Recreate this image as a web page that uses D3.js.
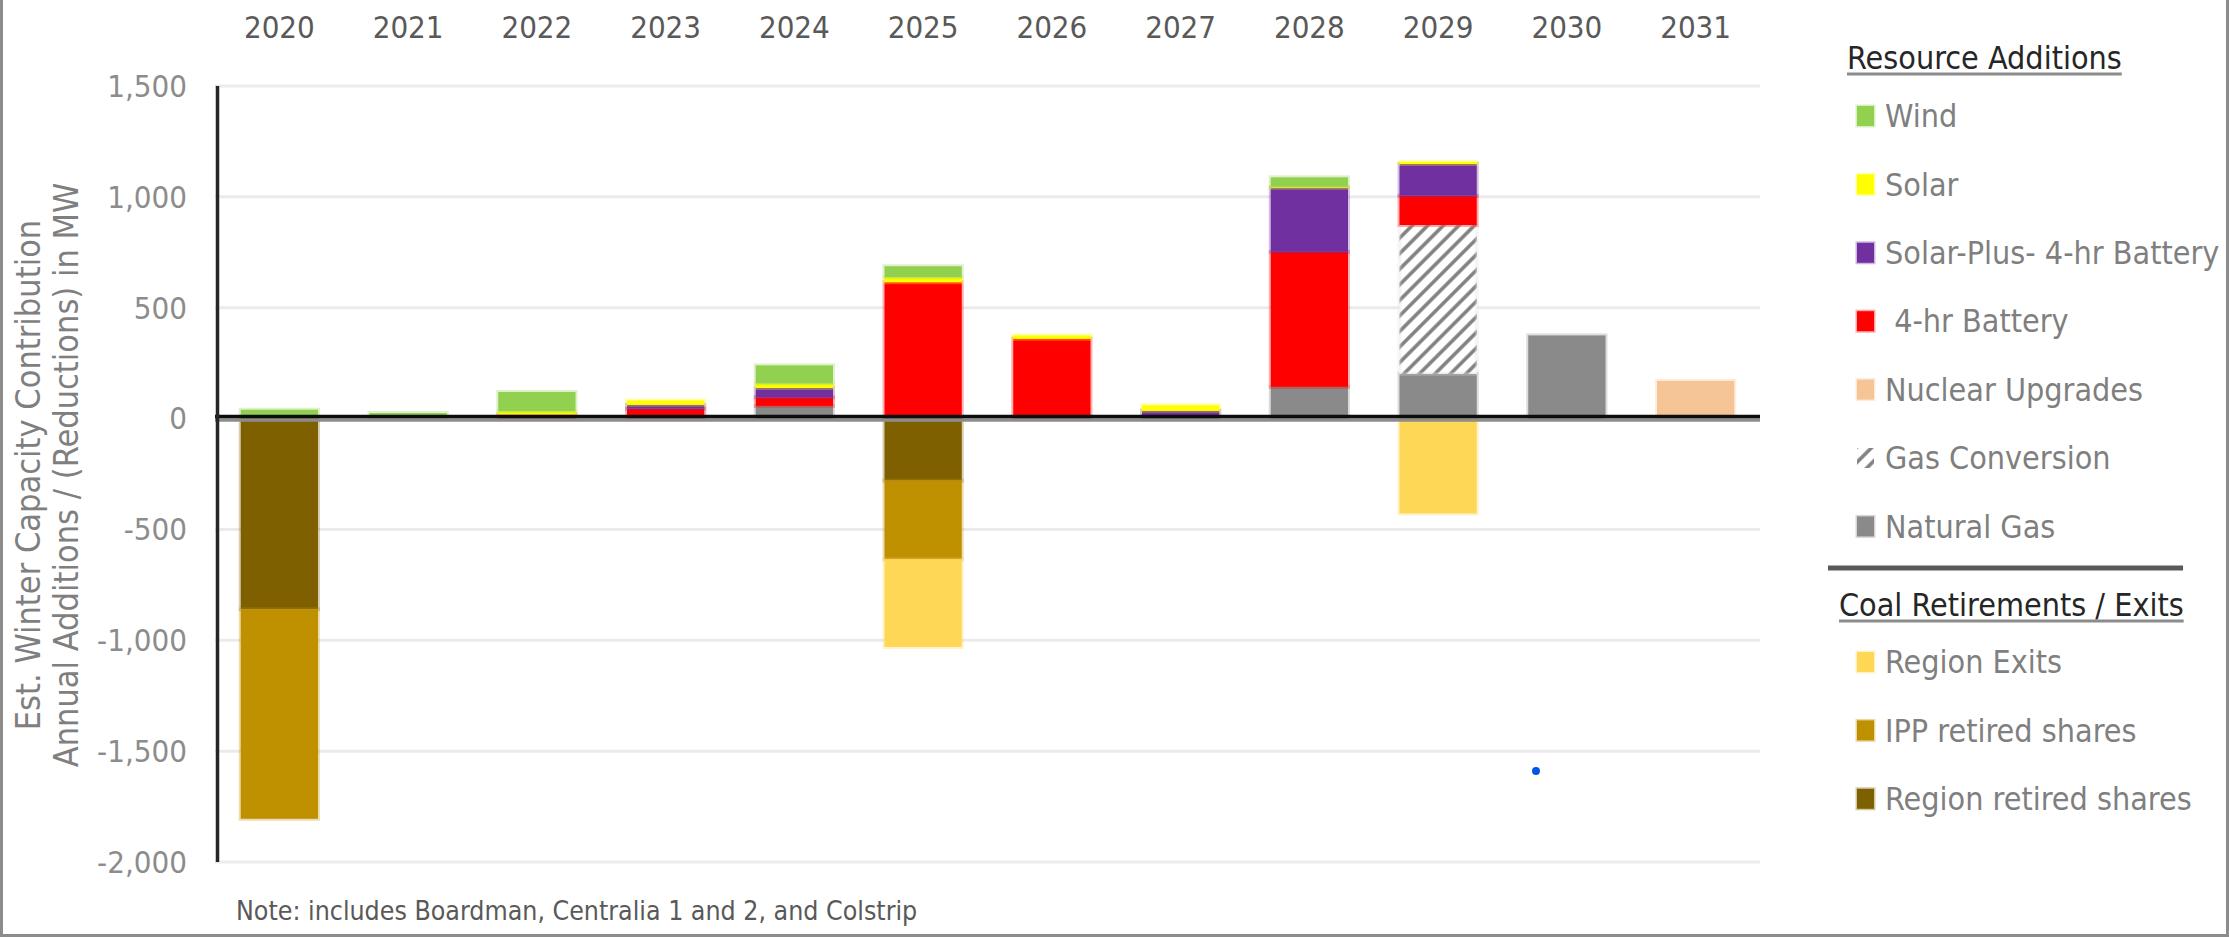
<!DOCTYPE html>
<html lang="en">
<head>
<meta charset="UTF-8">
<title>Winter Capacity Additions and Coal Retirements</title>
<script src="https://cdn.jsdelivr.net/npm/d3@7"></script>
<style>
  body { margin: 0; background: #fff; }
  svg { font-family: 'Liberation Sans Narrow', 'DejaVu Sans Condensed', 'Roboto', sans-serif; }
</style>
</head>
<body>
<div id="chart"></div>
<script>
// ---- data (MW) ----
var years = ['2020', '2021', '2022', '2023', '2024', '2025', '2026', '2027', '2028', '2029', '2030', '2031'];

var wind          = [40, 25, 87, 0, 82, 50, 0, 0, 42, 0, 0, 0];
var solar         = [0, 0, 15, 20, 20, 22, 15, 25, 5, 10, 0, 0];
var solarPlus     = [0, 0, 0, 17, 42, 0, 0, 35, 289, 143, 0, 0];
var battery       = [0, 0, 18, 45, 39, 615, 360, 0, 609, 132, 0, 0];
var nuclear       = [0, 0, 0, 0, 0, 0, 0, 0, 0, 0, 0, 170];
var gasConversion = [0, 0, 0, 0, 0, 0, 0, 0, 0, 671, 0, 0];
var naturalGas    = [0, 0, 0, 0, 57, 0, 0, 0, 143, 202, 375, 0];

var regionRetired = [-860, 0, 0, 0, 0, -280, 0, 0, 0, 0, 0, 0];
var ippRetired    = [-945, 0, 0, 0, 0, -355, 0, 0, 0, 0, 0, 0];
var regionExits   = [0, 0, 0, 0, 0, -395, 0, 0, 0, -428, 0, 0];

// stray marker sitting in the 2030 column
var dotYear  = [2029.76];
var dotValue = [-1590];

var yTicks = [-2000, -1500, -1000, -500, 0, 500, 1000, 1500];

var additionKeys = ['Wind', 'Solar', 'Solar-Plus- 4-hr Battery', ' 4-hr Battery', 'Nuclear Upgrades', 'Gas Conversion', 'Natural Gas'];
var retirementKeys = ['Region Exits', 'IPP retired shares', 'Region retired shares'];

var seriesValues = {
  'Wind': wind,
  'Solar': solar,
  'Solar-Plus- 4-hr Battery': solarPlus,
  ' 4-hr Battery': battery,
  'Nuclear Upgrades': nuclear,
  'Gas Conversion': gasConversion,
  'Natural Gas': naturalGas,
  'Region retired shares': regionRetired,
  'IPP retired shares': ippRetired,
  'Region Exits': regionExits
};

var colors = {
  'Wind': '#92d050',
  'Solar': '#ffff00',
  'Solar-Plus- 4-hr Battery': '#7030a0',
  ' 4-hr Battery': '#ff0000',
  'Nuclear Upgrades': '#f5c596',
  'Gas Conversion': 'url(#hatch)',
  'Natural Gas': '#8a8a8a',
  'Region Exits': '#ffd757',
  'IPP retired shares': '#bf9000',
  'Region retired shares': '#7f6000'
};

// stack order from the zero line outwards
var stackKeys = ['Natural Gas', 'Gas Conversion', 'Nuclear Upgrades', ' 4-hr Battery',
                 'Solar-Plus- 4-hr Battery', 'Solar', 'Wind',
                 'Region retired shares', 'IPP retired shares', 'Region Exits'];

var rows = years.map(function(y, i) {
  var r = { year: y };
  stackKeys.forEach(function(k) { r[k] = seriesValues[k][i]; });
  return r;
});

// ---- layout ----
var W = 2229, H = 937;
var plotLeft = 215, plotRight = 1760;

var svg = d3.select('#chart').append('svg')
  .attr('width', W).attr('height', H);

var defs = svg.append('defs');
var hatch = defs.append('pattern')
  .attr('id', 'hatch')
  .attr('patternUnits', 'userSpaceOnUse')
  .attr('width', 11).attr('height', 11)
  .attr('patternTransform', 'rotate(45)');
hatch.append('rect').attr('width', 11).attr('height', 11).attr('fill', '#fff');
hatch.append('line')
  .attr('x1', 3).attr('y1', 0).attr('x2', 3).attr('y2', 11)
  .attr('stroke', '#7f7f7f').attr('stroke-width', 3.5);

var x = d3.scaleBand().domain(years).range([plotLeft, plotRight]).paddingInner(0.4).paddingOuter(0.2);
var xNum = d3.scaleLinear().domain([2019.5, 2031.5]).range([plotLeft, plotRight]);
var y = d3.scaleLinear().domain([-2000, 1500]).range([862, 86]);

// excel style numbers: plain hyphen for negatives
var fmt = d3.formatLocale({ decimal: '.', thousands: ',', grouping: [3], currency: ['$', ''], minus: '-' }).format(',');

// gridlines
svg.append('g').selectAll('line')
  .data(yTicks.filter(function(t) { return t !== 0; }))
  .join('line')
  .attr('x1', plotLeft).attr('x2', plotRight)
  .attr('y1', function(d) { return y(d); }).attr('y2', function(d) { return y(d); })
  .attr('stroke', '#ebebeb').attr('stroke-width', 3);

// tick labels
svg.append('g').selectAll('text')
  .data(yTicks)
  .join('text')
  .attr('x', 187)
  .attr('y', function(d) { return y(d); })
  .attr('dy', '0.35em')
  .attr('text-anchor', 'end')
  .attr('font-size', 31)
  .attr('fill', '#8c8c8c')
  .text(function(d) { return fmt(d); });

// year labels on top
svg.append('g').selectAll('text')
  .data(years)
  .join('text')
  .attr('x', function(d) { return x(d) + x.bandwidth() / 2; })
  .attr('y', 38)
  .attr('text-anchor', 'middle')
  .attr('font-size', 31)
  .attr('fill', '#595959')
  .text(function(d) { return d; });

// stacked bars
var stack = d3.stack().keys(stackKeys).offset(d3.stackOffsetDiverging);
var layers = stack(rows);

svg.append('g').selectAll('g')
  .data(layers)
  .join('g')
  .attr('fill', function(d) { return colors[d.key]; })
  .attr('stroke', function(d) { return d.key === 'Gas Conversion' ? '#ddd' : colors[d.key]; })
  .attr('stroke-opacity', 0.3)
  .attr('stroke-width', 4)
  .selectAll('rect')
  .data(function(d) { return d.filter(function(s) { return s[1] - s[0] !== 0; }); })
  .join('rect')
  .attr('x', function(d) { return x(d.data.year); })
  .attr('width', x.bandwidth())
  .attr('y', function(d) { return y(Math.max(d[0], d[1])); })
  .attr('height', function(d) { return Math.abs(y(d[0]) - y(d[1])); });

// zero line and value axis
svg.append('line')
  .attr('x1', plotLeft).attr('x2', plotRight)
  .attr('y1', y(0) + 1.5).attr('y2', y(0) + 1.5)
  .attr('stroke', '#8c8c8c').attr('stroke-width', 3.5);
svg.append('line')
  .attr('x1', plotLeft).attr('x2', plotRight)
  .attr('y1', y(0) - 2).attr('y2', y(0) - 2)
  .attr('stroke', '#0d0d0d').attr('stroke-width', 3.5);
svg.append('line')
  .attr('x1', 217.5).attr('x2', 217.5)
  .attr('y1', y(1500)).attr('y2', y(-2000))
  .attr('stroke', '#262626').attr('stroke-width', 3.5);

// blue marker
svg.append('g').selectAll('circle')
  .data(dotValue)
  .join('circle')
  .attr('cx', function(d, i) { return xNum(dotYear[i]); })
  .attr('cy', function(d) { return y(d); })
  .attr('r', 4)
  .attr('fill', '#0055e6');

// y axis title
var yTitle = svg.append('text')
  .attr('transform', 'translate(0,475) rotate(-90)')
  .attr('text-anchor', 'middle')
  .attr('font-size', 34)
  .attr('fill', '#7f7f7f');
yTitle.append('tspan').attr('x', 0).attr('y', 40).text('Est. Winter Capacity Contribution');
yTitle.append('tspan').attr('x', 0).attr('y', 78).text('Annual Additions / (Reductions) in MW');

// note
svg.append('text')
  .attr('x', 236).attr('y', 920)
  .attr('font-size', 26.5)
  .attr('fill', '#595959')
  .text('Note: includes Boardman, Centralia 1 and 2, and Colstrip');

// ---- legend ----
var legend = svg.append('g');

function heading(label, xPos, baseline) {
  var t = legend.append('text')
    .attr('x', xPos).attr('y', baseline)
    .attr('font-size', 32)
    .attr('fill', '#262626')
    .text(label);
  var len = t.node().getComputedTextLength();
  legend.append('line')
    .attr('x1', xPos).attr('x2', xPos + len)
    .attr('y1', baseline + 5).attr('y2', baseline + 5)
    .attr('stroke', '#8c8c8c').attr('stroke-width', 3);
}

function items(keys, top) {
  var g = legend.append('g').selectAll('g')
    .data(keys)
    .join('g')
    .attr('transform', function(d, i) { return 'translate(1857,' + (top + i * 68.4) + ')'; });
  g.append('rect')
    .attr('x', 0).attr('y', -10)
    .attr('width', 17).attr('height', 20)
    .attr('fill', function(d) { return colors[d]; })
    .attr('stroke', function(d) { return d === 'Gas Conversion' ? 'none' : colors[d]; })
    .attr('stroke-opacity', 0.35)
    .attr('stroke-width', 3);
  g.append('text')
    .attr('x', 28).attr('y', 0)
    .attr('dy', '0.35em')
    .attr('font-size', 32)
    .attr('fill', '#7f7f7f')
    .attr('xml:space', 'preserve')
    .style('white-space', 'pre')
    .text(function(d) { return d; });
}

heading('Resource Additions', 1847, 69);
items(additionKeys, 116);

legend.append('line')
  .attr('x1', 1828).attr('x2', 2183)
  .attr('y1', 568).attr('y2', 568)
  .attr('stroke', '#595959').attr('stroke-width', 5);

heading('Coal Retirements / Exits', 1839, 616);
items(retirementKeys, 662);

// outer frame
var frame = svg.append('g').attr('stroke', '#8c8c8c').attr('stroke-width', 3);
frame.append('line').attr('x1', 1.5).attr('x2', 1.5).attr('y1', 0).attr('y2', H);
frame.append('line').attr('x1', W - 1.5).attr('x2', W - 1.5).attr('y1', 0).attr('y2', H);
frame.append('line').attr('x1', 0).attr('x2', W).attr('y1', H - 1.5).attr('y2', H - 1.5);
</script>
</body>
</html>
